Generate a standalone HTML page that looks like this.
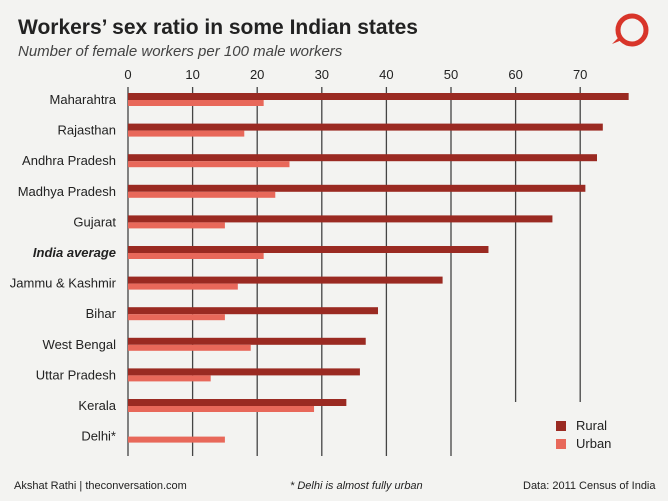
<!DOCTYPE html>
<html><head><meta charset="utf-8"><style>
body{margin:0;background:#f3f3f1;}
svg{display:block;font-family:"Liberation Sans",sans-serif;}
</style></head><body>
<svg id="c" width="668" height="501">
<rect width="668" height="501" fill="#f3f3f1"/>
<text x="18" y="34" font-size="21" font-weight="bold" fill="#222">Workers’ sex ratio in some Indian states</text>
<text x="18" y="56" font-size="15" font-style="italic" fill="#444">Number of female workers per 100 male workers</text>
<g><circle cx="632" cy="30" r="14" fill="none" stroke="#d8352a" stroke-width="5"/><path d="M612 44 L622 40 L620 36 Z" fill="#d8352a"/></g>
<g id="grid"></g><g id="bars"></g><g id="labels"></g>
<g>
<rect x="556" y="421" width="10" height="10" fill="#9a2a22"/>
<text x="576" y="430" font-size="13" fill="#222">Rural</text>
<rect x="556" y="439" width="10" height="10" fill="#e8685a"/>
<text x="576" y="448" font-size="13" fill="#222">Urban</text>
</g>
<text x="14" y="489" font-size="11" fill="#222">Akshat Rathi | theconversation.com</text>
<text x="290" y="489" font-size="11" font-style="italic" fill="#222">* Delhi is almost fully urban</text>
<text x="523" y="489" font-size="11" fill="#222">Data: 2011 Census of India</text>
</svg>
<script>
const states=["Maharahtra","Rajasthan","Andhra Pradesh","Madhya Pradesh","Gujarat","India average","Jammu & Kashmir","Bihar","West Bengal","Uttar Pradesh","Kerala","Delhi*"];
const rural=[77.5,73.5,72.6,70.8,65.7,55.8,48.7,38.7,36.8,35.9,33.8,0];
const urban=[21,18,25,22.8,15,21,17,15,19,12.8,28.8,15];
const ticks=[0,10,20,30,40,50,60,70];
const NS="http://www.w3.org/2000/svg";
const x=v=>128+v*6.46;
const y=i=>93+i*30.6;
function mk(t,a,p){const e=document.createElementNS(NS,t);for(const k in a)e.setAttribute(k,a[k]);p.appendChild(e);return e;}
const g=document.getElementById('grid'),b=document.getElementById('bars'),l=document.getElementById('labels');
ticks.forEach(t=>{
 const bot=t>=60?402:456;
 const ln=mk('line',{x1:x(t),x2:x(t),y1:87,y2:bot,stroke:'#444','stroke-width':1.3},g);
 
 
 const tx=mk('text',{x:x(t),y:79,'text-anchor':'middle','font-size':13,fill:'#222'},g);
 tx.textContent=t;
 
 
});
states.forEach((s,i)=>{
 if(rural[i]>0){const r=mk('rect',{x:x(0),y:y(i),width:x(rural[i])-x(0),height:7,fill:'#9a2a22'},b);
 
 }
 const u=mk('rect',{x:x(0),y:y(i)+7,width:x(urban[i])-x(0),height:6,fill:'#e8685a'},b);
 
 
 const tx=mk('text',{x:116,y:y(i)+11,'text-anchor':'end','font-size':13,fill:'#222'},l);
 if(s==="India average"){tx.setAttribute('font-weight','bold');tx.setAttribute('font-style','italic');}
 tx.textContent=s;
 
 
});
</script>
</body></html>
